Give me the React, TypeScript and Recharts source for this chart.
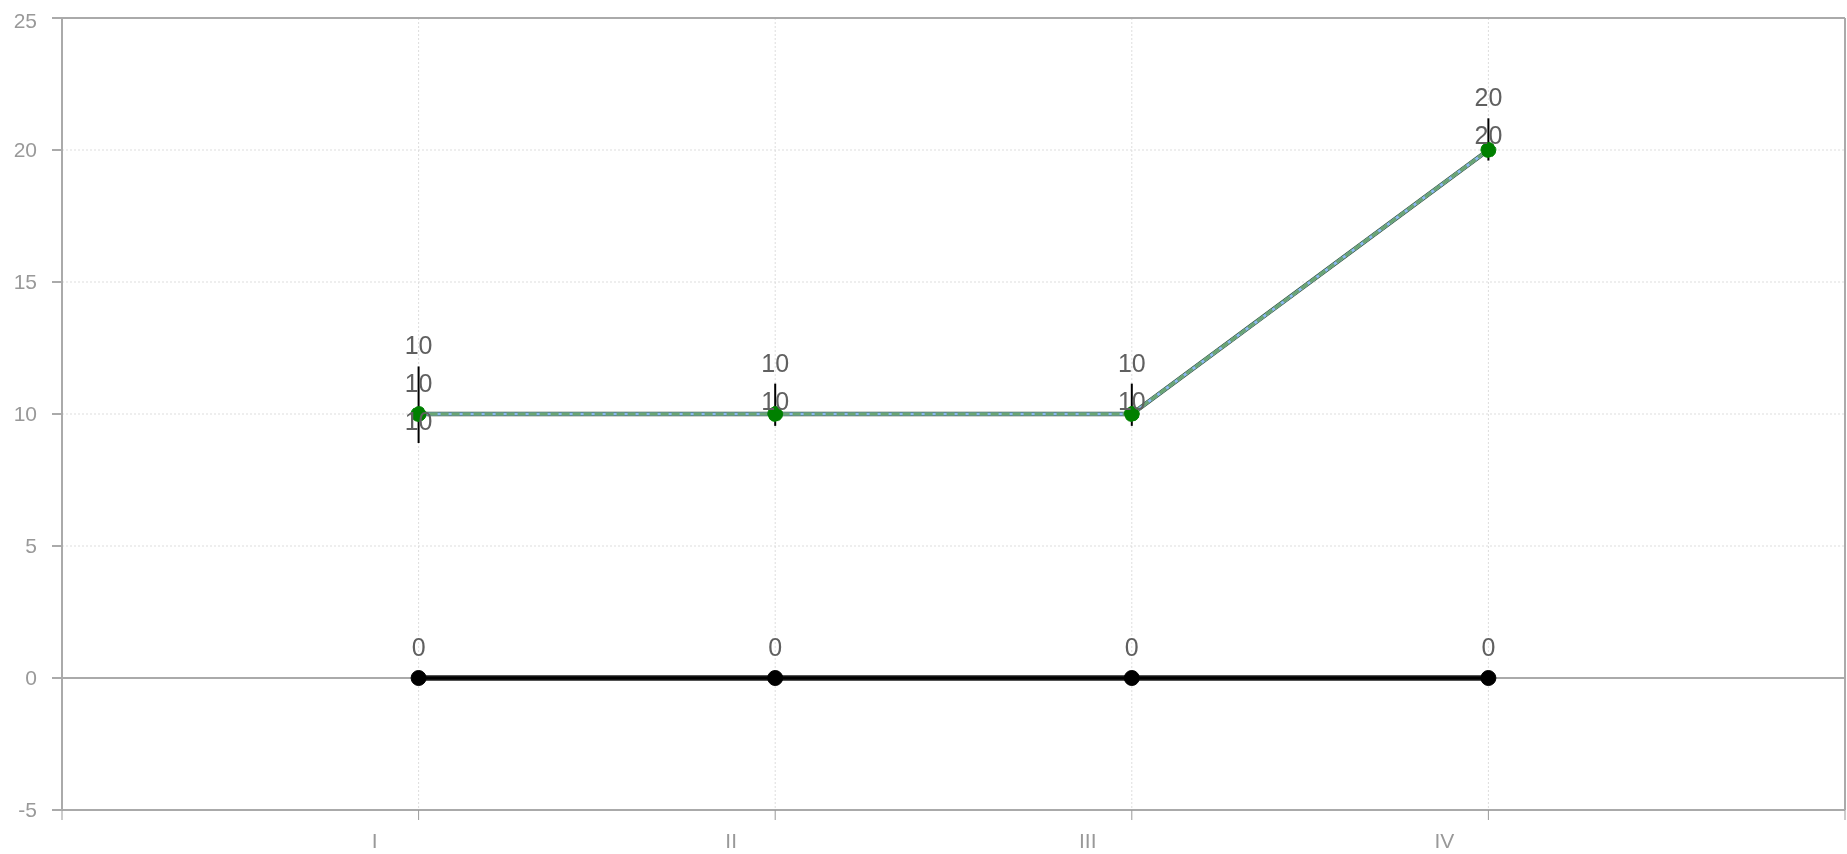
import React from 'react';
import {
	LineChart,
	Line,
	XAxis,
	YAxis,
	CartesianGrid,
	ErrorBar,
	LabelList,
	ReferenceLine,
} from 'recharts';

const categories = ['I', 'II', 'III', 'IV'];
const greenValues = [10, 10, 10, 20];
const zeroValues = [0, 0, 0, 0];
// [lower, upper]
const greenErrors = [
	[1.1, 1.8],
	[0.45, 1.15],
	[0.45, 1.15],
	[0.4, 1.2],
];
const extraLabel = [10, null, null, null];
const yTicks = [-5, 0, 5, 10, 15, 20, 25];
const xTicks = [0, 1, 2, 3, 4, 5];

const data = categories.map((name, i) => ({
	x: i + 1,
	name,
	green: greenValues[i],
	zero: zeroValues[i],
	err: greenErrors[i],
	extra: extraLabel[i],
}));

const WIDTH = 1839;
const HEIGHT = 846;
const TOP = 10;
const X_AXIS_H = 44;
const PX = (HEIGHT - TOP - X_AXIS_H) / 30;

const labelStyle = { fontSize: 25, fill: '#606060', textAnchor: 'middle' as const, dominantBaseline: 'central' as const };

const UpperLabel = (props: any) => {
	const { x, y, value, index } = props;
	if (value == null) return null;
	const top = y - greenErrors[index][1] * PX;
	return (
		<text x={x} y={top - 21} {...labelStyle}>
			{value}
		</text>
	);
};

const LowerLabel = (props: any) => {
	const { x, y, value, index } = props;
	if (value == null) return null;
	const top = y - greenErrors[index][1] * PX;
	return (
		<text x={x} y={top + 17} {...labelStyle}>
			{value}
		</text>
	);
};

const BelowLabel = (props: any) => {
	const { x, y, value } = props;
	if (value == null || y == null) return null;
	return (
		<text x={x} y={y + 7} {...labelStyle}>
			{value}
		</text>
	);
};

const ZeroLabel = (props: any) => {
	const { x, y, value } = props;
	return (
		<text x={x} y={y - 31} {...labelStyle}>
			{value}
		</text>
	);
};

const RomanTick = (props: any) => {
	const { x, y, payload } = props;
	const label = categories[payload.value - 1];
	if (!label) return null;
	return (
		<text x={x - 44} y={y + 26} textAnchor="middle" fill="#999" fontSize={21}>
			{label}
		</text>
	);
};

export default function App() {
	return (
		<div
			style={{
				position: 'fixed',
				left: 8,
				top: 8,
				width: WIDTH,
				height: HEIGHT,
				fontFamily: '"Liberation Sans", Arial, sans-serif',
			}}>
			<LineChart width={WIDTH} height={HEIGHT} data={data} margin={{ top: TOP, right: 2, left: 0, bottom: 0 }}>
				<CartesianGrid strokeDasharray="2 2" stroke="#ddd" />
				<XAxis
					dataKey="x"
					type="number"
					domain={[0, 5]}
					ticks={xTicks}
					height={X_AXIS_H}
					tickSize={10}
					axisLine={{ stroke: '#aaa', strokeWidth: 2 }}
					tickLine={{ stroke: '#999', strokeWidth: 1 }}
					tick={<RomanTick />}
				/>
				<YAxis
					domain={[-5, 25]}
					ticks={yTicks}
					width={54}
					tickSize={10}
					tickMargin={15}
					stroke="#aaa"
					strokeWidth={2}
					tick={{ fill: '#999', fontSize: 21 }}
				/>
				<ReferenceLine y={0} stroke="#aaa" strokeWidth={2} />
				<ReferenceLine y={25} stroke="#aaa" strokeWidth={2} />
				<ReferenceLine x={5} stroke="#aaa" strokeWidth={2} />
				<Line dataKey="zero" stroke="#555" strokeWidth={6} dot={false} isAnimationActive={false} />
				<Line
					dataKey="zero"
					stroke="#000"
					strokeWidth={3.5}
					dot={{ r: 7.5, fill: '#000', stroke: '#000', strokeWidth: 1 }}
					isAnimationActive={false}>
					<LabelList dataKey="zero" content={<ZeroLabel />} />
				</Line>
				<Line dataKey="green" stroke="#35573d" strokeWidth={4.5} dot={false} isAnimationActive={false}>
					<LabelList dataKey="green" content={<UpperLabel />} />
					<LabelList dataKey="green" content={<LowerLabel />} />
				</Line>
				<Line dataKey="extra" stroke="none" dot={false} isAnimationActive={false}>
					<LabelList dataKey="extra" content={<BelowLabel />} />
				</Line>
				<Line dataKey="green" stroke="#8ab8f0" strokeWidth={3} dot={false} isAnimationActive={false} />
				<Line
					dataKey="green"
					stroke="#6aa574"
					strokeWidth={3}
					strokeDasharray="8 3"
					dot={{ r: 7.5, fill: '#008000', stroke: '#008000', strokeWidth: 1 }}
					isAnimationActive={false}>
					<ErrorBar dataKey="err" width={0} stroke="#000" strokeWidth={2} direction="y" />
				</Line>
			</LineChart>
		</div>
	);
}
